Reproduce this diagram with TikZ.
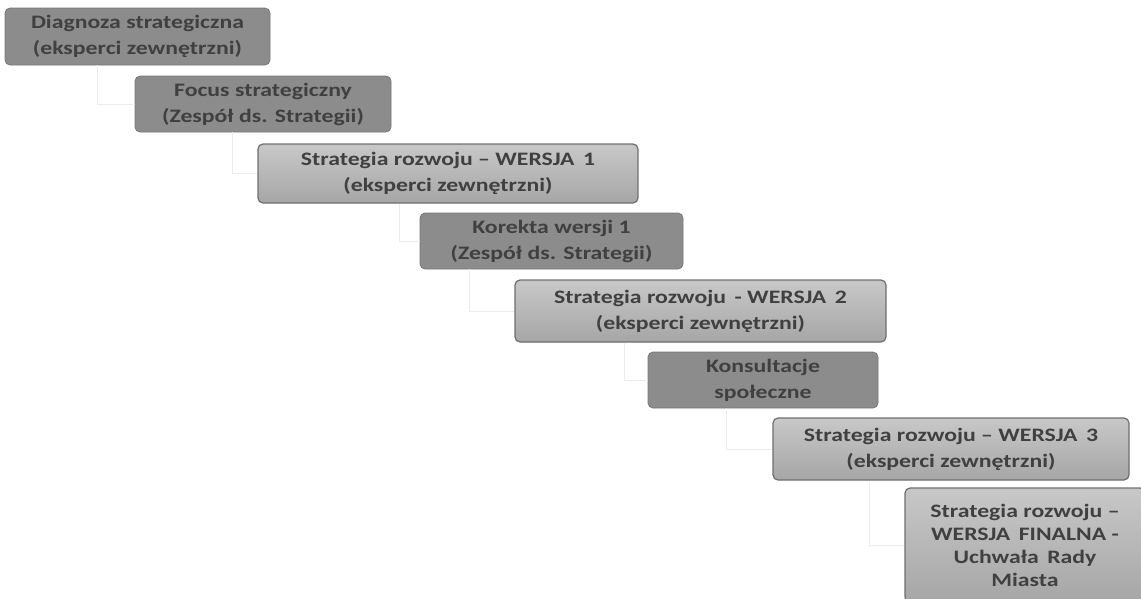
\documentclass[tikz,border=0pt]{standalone}
\usepackage{fontspec}
\setmainfont{Carlito}[FakeStretch=1.25]
\begin{document}
\begin{tikzpicture}[x=1pt,y=-1pt,
  box/.style={rounded corners=5pt, inner sep=0pt, text=txt, align=center,
    font=\fontsize{19}{26}\selectfont\bfseries},
  darkbox/.style={box, fill=boxdark, draw=boxdark!85!black, line width=0.8pt},
  lightbox/.style={box, top color=boxtop, bottom color=boxbot, draw=boxedge, line width=1.2pt},
  conn/.style={draw=gray!15, line width=0.8pt}]
\definecolor{boxdark}{HTML}{8C8C8C}
\definecolor{boxtop}{HTML}{C8C8C8}
\definecolor{boxbot}{HTML}{A6A6A6}
\definecolor{boxedge}{HTML}{6E6E6E}
\definecolor{txt}{HTML}{404040}
\useasboundingbox (0,0) rectangle (1141,598);
% boxes
\node[darkbox, minimum width=265pt, minimum height=57pt] (n1) at (137.5,36.5) {Diagnoza strategiczna\\(eksperci zewnętrzni)};
\node[darkbox, minimum width=256pt, minimum height=56pt] (n2) at (263,104) {Focus strategiczny\\(Zespół ds. Strategii)};
\node[lightbox, minimum width=380pt, minimum height=59pt] (n3) at (448,173.5) {Strategia rozwoju -- WERSJA\, 1\\(eksperci zewnętrzni)};
\node[darkbox, minimum width=263pt, minimum height=56pt] (n4) at (551.5,241) {Korekta wersji 1\\(Zespół ds. Strategii)};
\node[lightbox, minimum width=371pt, minimum height=62pt] (n5) at (700.5,311) {Strategia rozwoju\, - WERSJA\, 2\\(eksperci zewnętrzni)};
\node[darkbox, minimum width=230pt, minimum height=56pt] (n6) at (763,380) {Konsultacje\\społeczne};
\node[lightbox, minimum width=356pt, minimum height=62pt] (n7) at (951,449) {Strategia rozwoju -- WERSJA\, 3\\(eksperci zewnętrzni)};
\node[lightbox, minimum width=240pt, minimum height=114pt, font=\fontsize{19}{23}\selectfont\bfseries] (n8) at (1025,545) {Strategia rozwoju --\\WERSJA\, FINALNA -\\Uchwała\, Rady\\Miasta};
% faint connectors
\draw[conn] ([xshift=93pt]n1.south west) |- (n2.west);
\draw[conn] ([xshift=98pt]n2.south west) |- (n3.west);
\draw[conn] ([xshift=142pt]n3.south west) |- (n4.west);
\draw[conn] ([xshift=50pt]n4.south west) |- (n5.west);
\draw[conn] ([xshift=110pt]n5.south west) |- (n6.west);
\draw[conn] ([xshift=79pt]n6.south west) |- (n7.west);
\draw[conn] ([xshift=97pt]n7.south west) |- (n8.west);
\end{tikzpicture}
\end{document}
